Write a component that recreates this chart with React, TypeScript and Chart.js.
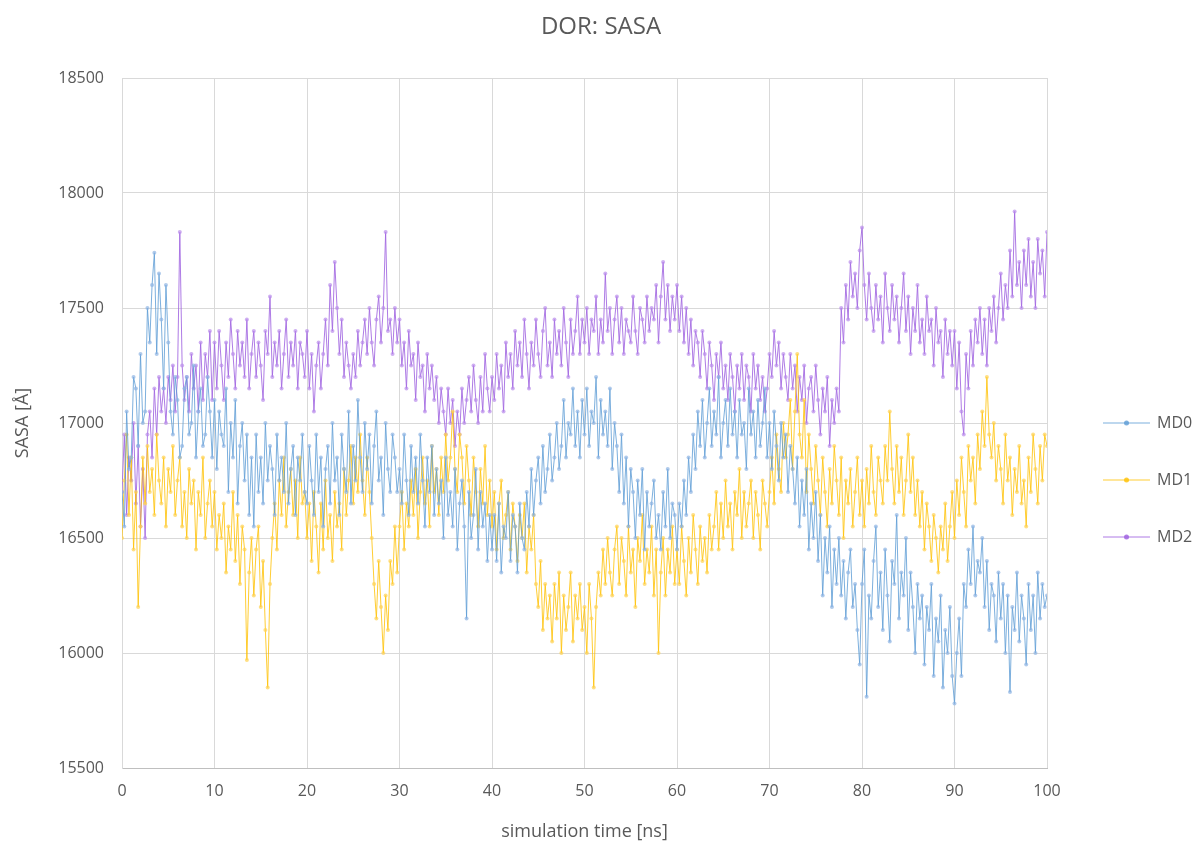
import React, { useEffect, useRef } from "react";
import { Chart, registerables } from "chart.js";

Chart.register(...registerables);

const TITLE = "DOR: SASA";
const X_TITLE = "simulation time [ns]";
const Y_TITLE = "SASA [Å]";
const TIME_STEP = 0.25; // ns between samples
const SERIES_NAMES = ["MD0", "MD1", "MD2"];

const MD0 = [
  16700, 16550, 17050, 16800, 16850, 17200, 17150, 16900, 17300, 17000, 17050, 17500, 17350, 17600, 17740, 17300, 17650, 17450, 17150, 17600, 17350, 17050, 16950, 17200, 17100, 16850, 16900, 17150, 17200, 16950, 17000, 17250, 16850, 17050, 17150, 16900, 16950, 17200, 17050, 16850,
  17100, 16800, 17050, 16950, 16900, 17150, 16700, 17000, 16850, 17100, 16650, 16900, 17000, 16750, 16950, 16600, 16850, 16550, 16950, 16700, 16850, 16650, 17000, 16750, 16900, 16800, 16600, 16950, 16750, 16850, 16700, 17000, 16650, 16800, 16900, 16600, 16850, 16750, 16950, 16700,
  16650, 16900, 16750, 16600, 16950, 16700, 16850, 16550, 16800, 16900, 16650, 17000, 16750, 16850, 16600, 16950, 16800, 16700, 17050, 16650, 16900, 16750, 17100, 16850, 16700, 17000, 16800, 16950, 16650, 16900, 17050, 16750, 16850, 16600, 17000, 16800, 16700, 16950, 16850, 16700,
  16800, 16650, 16950, 16750, 16600, 16900, 16700, 16850, 16650, 16950, 16750, 16550, 16850, 16700, 16900, 16600, 16800, 16650, 16750, 16500, 16850, 16600, 16700, 16550, 16800, 16450, 16650, 16750, 16550, 16150, 16700, 16500, 16600, 16800, 16450, 16700, 16550, 16650, 16400, 16600,
  16450, 16600, 16400, 16650, 16350, 16550, 16500, 16700, 16400, 16600, 16550, 16350, 16650, 16500, 16450, 16700, 16550, 16800, 16600, 16750, 16850, 16650, 16900, 16700, 16800, 16950, 16750, 16850, 17000, 16800, 16900, 17100, 16850, 17000, 16950, 17150, 16900, 17050, 16850, 17100,
  16950, 17150, 16900, 17050, 17000, 17200, 16850, 17100, 16950, 17050, 16900, 17150, 16800, 17000, 16900, 16700, 16950, 16650, 16850, 16550, 16800, 16700, 16500, 16750, 16600, 16800, 16450, 16700, 16550, 16650, 16750, 16500, 16600, 16450, 16700, 16550, 16800, 16500, 16650, 16600,
  16450, 16650, 16550, 16750, 16600, 16850, 16700, 16950, 16800, 17050, 16900, 17100, 16850, 17000, 17150, 16900, 17050, 16950, 17200, 16850, 17000, 17100, 16900, 17150, 16950, 17050, 16850, 17100, 16950, 17000, 16800, 17150, 16950, 17050, 16850, 17100, 16900, 17000, 17150, 16850,
  17000, 16800, 17050, 16900, 16750, 17000, 16850, 16950, 16700, 16900, 16800, 16650, 16850, 16550, 16750, 16600, 16800, 16450, 16650, 16500, 16700, 16400, 16600, 16250, 16500, 16350, 16550, 16200, 16450, 16300, 16500, 16250, 16400, 16150, 16350, 16450, 16200, 16300, 16100, 15950,
  16300, 16450, 15810, 16250, 16150, 16400, 16550, 16200, 16350, 16100, 16450, 16250, 16050, 16400, 16300, 16600, 16150, 16350, 16250, 16500, 16100, 16350, 16200, 16000, 16300, 16150, 16250, 15950, 16200, 16100, 16300, 15900, 16150, 16050, 16250, 15850, 16100, 16000, 16200, 15900,
  15780, 16000, 16150, 15900, 16300, 16200, 16450, 16300, 16550, 16250, 16400, 16350, 16500, 16200, 16400, 16100, 16300, 16250, 16050, 16350, 16150, 16300, 16000, 16250, 15830, 16200, 16100, 16350, 16050, 16250, 16150, 15950, 16300, 16100, 16250, 16000, 16350, 16150, 16300, 16200,
  16250,
];

const MD1 = [
  16500, 16750, 16950, 16600, 16850, 16450, 16700, 16200, 16550, 16850, 16650, 16900, 16700, 16800, 16600, 16950, 16750, 16650, 16850, 16550, 16800, 16700, 16900, 16600, 16750, 16850, 16550, 16700, 16500, 16800, 16650, 16750, 16450, 16700, 16600, 16850, 16500, 16650, 16750, 16550,
  16700, 16450, 16600, 16500, 16650, 16350, 16550, 16450, 16700, 16400, 16600, 16300, 16550, 16450, 15970, 16350, 16500, 16250, 16450, 16550, 16200, 16400, 16100, 15850, 16300, 16500, 16650, 16450, 16750, 16600, 16850, 16550, 16700, 16800, 16600, 16750, 16500, 16850, 16650, 16700,
  16500, 16650, 16400, 16700, 16550, 16350, 16650, 16450, 16750, 16500, 16600, 16400, 16700, 16550, 16650, 16450, 16800, 16600, 16750, 16900, 16650, 16850, 16700, 16950, 16750, 16600, 16850, 16700, 16500, 16300, 16150, 16400, 16200, 16000, 16250, 16100, 16400, 16300, 16550, 16350,
  16550, 16700, 16450, 16650, 16550, 16750, 16600, 16800, 16500, 16700, 16850, 16650, 16750, 16550, 16900, 16700, 16800, 16600, 16850, 16700, 16950, 16750, 16850, 17050, 16800, 16700, 16950, 16850, 16650, 16900, 16750, 16600, 16850, 16700, 16550, 16800, 16650, 16900, 16600, 16750,
  16550, 16700, 16450, 16650, 16750, 16500, 16600, 16700, 16450, 16650, 16550, 16400, 16600, 16500, 16650, 16350, 16550, 16450, 16600, 16300, 16200, 16400, 16100, 16300, 16150, 16250, 16050, 16300, 16150, 16350, 16000, 16250, 16100, 16200, 16350, 16050, 16250, 16150, 16300, 16100,
  16200, 16000, 16300, 16150, 15850, 16200, 16350, 16250, 16450, 16300, 16500, 16350, 16250, 16450, 16550, 16300, 16500, 16400, 16250, 16550, 16350, 16450, 16200, 16500, 16400, 16600, 16300, 16450, 16350, 16550, 16250, 16450, 16000, 16350, 16500, 16250, 16450, 16350, 16550, 16300,
  16450, 16300, 16550, 16400, 16250, 16500, 16350, 16600, 16450, 16300, 16550, 16400, 16500, 16350, 16600, 16450, 16550, 16700, 16450, 16650, 16500, 16750, 16550, 16650, 16450, 16700, 16600, 16800, 16500, 16700, 16550, 16650, 16750, 16500, 16700, 16600, 16450, 16750, 16650, 16550,
  16700, 16850, 16650, 16950, 16800, 16700, 17000, 16850, 16950, 17100, 16800, 17050, 17300, 16950, 16850, 17100, 16700, 16950, 16800, 16650, 16900, 16750, 16600, 16850, 16700, 16550, 16800, 16650, 16900, 16750, 16600, 16850, 16500, 16750, 16650, 16800, 16550, 16700, 16850, 16600,
  16750, 16550, 16800, 16650, 16900, 16700, 16600, 16850, 16750, 16650, 16900, 16750, 17050, 16800, 16650, 16900, 16700, 16850, 16600, 16750, 16950, 16700, 16850, 16600, 16750, 16550, 16700, 16450, 16650, 16550, 16400, 16600, 16500, 16350, 16550, 16450, 16650, 16400, 16550, 16700,
  16500, 16750, 16600, 16850, 16700, 16550, 16900, 16750, 16850, 16650, 16950, 16800, 17050, 16900, 17200, 16950, 16850, 17000, 16750, 16900, 16800, 16650, 16950, 16750, 16850, 16600, 16800, 16700, 16900, 16650, 16750, 16550, 16850, 16700, 16950, 16800, 16650, 16900, 16750, 16950,
  16900,
];

const MD2 = [
  16700, 16950, 16600, 16850, 16750, 17000, 16650, 16900, 16550, 16800, 16500, 16950, 17050, 16850, 17150, 16950, 17200, 17050, 17150, 17000, 17200, 17100, 17250, 17050, 17200, 17830, 17250, 17100, 17200, 17050, 17300, 17150, 17250, 17050, 17350, 17100, 17300, 17200, 17400, 17100,
  17350, 17150, 17400, 17250, 17100, 17350, 17200, 17450, 17300, 17150, 17400, 17250, 17350, 17200, 17450, 17150, 17300, 17400, 17200, 17350, 17250, 17100, 17400, 17300, 17550, 17200, 17350, 17250, 17400, 17150, 17300, 17450, 17200, 17350, 17250, 17400, 17150, 17350, 17300, 17200,
  17400, 17150, 17300, 17050, 17250, 17350, 17150, 17300, 17450, 17250, 17600, 17400, 17700, 17500, 17300, 17450, 17200, 17350, 17250, 17150, 17300, 17200, 17400, 17250, 17350, 17450, 17300, 17500, 17350, 17250, 17450, 17550, 17350, 17500, 17830, 17400, 17450, 17300, 17500, 17350,
  17450, 17250, 17350, 17150, 17400, 17250, 17300, 17100, 17350, 17200, 17250, 17050, 17300, 17150, 17250, 17100, 17200, 17000, 17150, 17050, 16950, 17150, 17000, 17100, 16900, 17050, 16950, 17150, 17000, 17100, 17200, 17050, 17250, 17100, 17000, 17200, 17050, 17300, 17150, 17050,
  17200, 17100, 17300, 17150, 17250, 17050, 17350, 17200, 17300, 17150, 17400, 17250, 17350, 17200, 17450, 17300, 17150, 17350, 17250, 17450, 17300, 17200, 17400, 17500, 17250, 17350, 17200, 17450, 17300, 17400, 17250, 17500, 17350, 17200, 17450, 17300, 17400, 17550, 17300, 17450,
  17350, 17500, 17300, 17450, 17400, 17550, 17300, 17450, 17350, 17650, 17400, 17500, 17300, 17450, 17550, 17350, 17500, 17300, 17450, 17400, 17350, 17550, 17400, 17300, 17500, 17450, 17350, 17550, 17400, 17500, 17450, 17600, 17350, 17550, 17700, 17450, 17600, 17400, 17550, 17450,
  17600, 17400, 17550, 17350, 17500, 17300, 17450, 17250, 17400, 17350, 17200, 17400, 17300, 17150, 17350, 17250, 17100, 17300, 17200, 17350, 17150, 17250, 17100, 17300, 17200, 17050, 17250, 17150, 17300, 17100, 17250, 17200, 17050, 17300, 17150, 17250, 17100, 17200, 17050, 17150,
  17300, 17200, 17400, 17250, 17350, 17150, 17300, 17200, 17100, 17300, 17150, 17250, 17050, 17200, 17100, 17250, 17000, 17150, 17200, 17050, 17250, 17100, 16950, 17150, 17050, 17200, 16900, 17100, 17000, 17150, 17050, 17500, 17350, 17600, 17450, 17700, 17550, 17650, 17500, 17750,
  17850, 17600, 17450, 17650, 17500, 17400, 17600, 17450, 17550, 17350, 17650, 17500, 17400, 17600, 17450, 17550, 17350, 17500, 17650, 17400, 17550, 17300, 17500, 17400, 17600, 17350, 17450, 17300, 17550, 17400, 17450, 17250, 17500, 17350, 17400, 17200, 17450, 17300, 17400, 17250,
  17400, 17150, 17350, 17050, 16950, 17300, 17150, 17400, 17250, 17450, 17350, 17500, 17300, 17450, 17250, 17500, 17400, 17550, 17350, 17500, 17650, 17450, 17600, 17500, 17750, 17550, 17920, 17600, 17700, 17500, 17750, 17600, 17800, 17550, 17700, 17500, 17800, 17650, 17750, 17550,
  17830,
];

const X_TICKS = [0, 10, 20, 30, 40, 50, 60, 70, 80, 90, 100];
const Y_TICKS = [15500, 16000, 16500, 17000, 17500, 18000, 18500];

const LINE_COLORS = ["rgba(91,155,213,0.8)", "rgba(255,192,0,0.8)", "rgba(160,100,224,0.85)"];
const POINT_COLORS = ["rgba(141,180,226,0.7)", "rgba(255,210,80,0.7)", "rgba(185,140,235,0.7)"];

const FONT = "'Open Sans', 'Liberation Sans', sans-serif";
const TEXT = "#595959";

const legendPlugin = {
  id: "customLegend",
  afterDraw(chart: any) {
    const ctx = chart.ctx;
    const ys = [423, 480, 537];
    ctx.save();
    chart.data.datasets.forEach((ds: any, i: number) => {
      const y = ys[i];
      ctx.strokeStyle = LINE_COLORS[i];
      ctx.lineWidth = 1;
      ctx.beginPath();
      ctx.moveTo(1103, y);
      ctx.lineTo(1150, y);
      ctx.stroke();
      ctx.fillStyle = LINE_COLORS[i];
      ctx.beginPath();
      ctx.arc(1126.5, y, 2.5, 0, Math.PI * 2);
      ctx.fill();
      ctx.fillStyle = TEXT;
      ctx.font = "16px " + FONT;
      ctx.textBaseline = "middle";
      ctx.textAlign = "left";
      ctx.fillText(ds.label, 1157, y);
    });
    ctx.restore();
  },
};

export default function App() {
  const ref = useRef<HTMLCanvasElement>(null);
  useEffect(() => {
    const series = [MD0, MD1, MD2];
    const chart = new Chart(ref.current!, {
      type: "line",
      data: {
        datasets: series.map((vals, i) => ({
          label: SERIES_NAMES[i],
          data: vals.map((v, k) => ({ x: k * TIME_STEP, y: v })),
          borderColor: LINE_COLORS[i],
          backgroundColor: POINT_COLORS[i],
          pointBackgroundColor: POINT_COLORS[i],
          pointBorderColor: POINT_COLORS[i],
          borderWidth: 1,
          pointRadius: 2,
          pointBorderWidth: 0,
          tension: 0,
          fill: false,
        })),
      },
      options: {
        responsive: false,
        animation: false,
        layout: { padding: { left: 0, right: 157, top: 78, bottom: 0 } },
        plugins: {
          legend: { display: false },
          tooltip: { enabled: false },
          title: { display: false },
        },
        scales: {
          x: {
            type: "linear",
            min: 0,
            max: 100,
            afterBuildTicks: (s: any) => {
              s.ticks = X_TICKS.map((v) => ({ value: v }));
            },
            afterFit: (s: any) => {
              s.height = 77;
            },
            ticks: { color: TEXT, font: { family: FONT, size: 16 }, padding: 14, callback: (v: any) => String(v) },
            grid: { color: "#d9d9d9", drawTicks: false },
            border: { color: "#bfbfbf" },
            title: {
              display: true,
              text: X_TITLE,
              color: TEXT,
              font: { family: FONT, size: 18 },
              padding: { top: 6, bottom: 2 },
            },
          },
          y: {
            type: "linear",
            min: 15500,
            max: 18500,
            afterBuildTicks: (s: any) => {
              s.ticks = Y_TICKS.map((v) => ({ value: v }));
            },
            afterFit: (s: any) => {
              s.width = 122;
            },
            ticks: { color: TEXT, font: { family: FONT, size: 16 }, padding: 18, callback: (v: any) => String(v) },
            grid: { color: "#d9d9d9", drawTicks: false },
            border: { color: "#d9d9d9" },
            title: {
              display: true,
              text: Y_TITLE,
              color: TEXT,
              font: { family: FONT, size: 18 },
              padding: { top: 12, bottom: 0 },
            },
          },
        },
      },
      plugins: [
        legendPlugin,
        {
          id: "topTitle",
          afterDraw(chart: any) {
            const ctx = chart.ctx;
            ctx.save();
            ctx.fillStyle = TEXT;
            ctx.font = "24px " + FONT;
            ctx.textAlign = "center";
            ctx.textBaseline = "middle";
            ctx.fillText(TITLE, 601, 27);
            ctx.restore();
          },
        },
      ],
    });
    return () => chart.destroy();
  }, []);
  return (
    <div style={{ position: "absolute", left: 0, top: 0, width: 1204, height: 845, background: "#fff" }}>
      <canvas ref={ref} width={1204} height={845} />
    </div>
  );
}
